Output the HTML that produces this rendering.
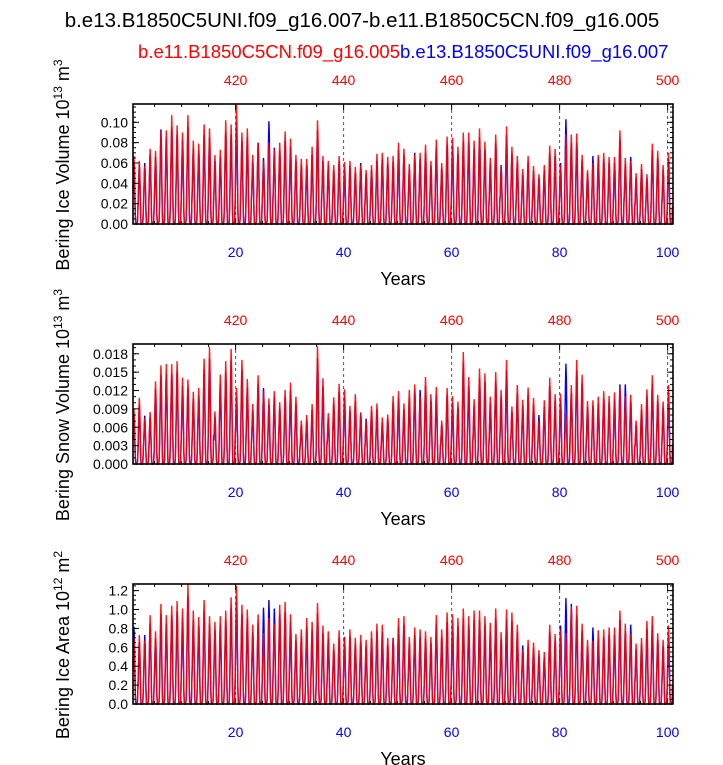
<!DOCTYPE html>
<html><head><meta charset="utf-8"><style>
body{margin:0;background:#fff;font-family:"Liberation Sans",sans-serif}
svg{display:block}
</style></head><body>
<svg id="c" width="723" height="765" xmlns="http://www.w3.org/2000/svg">
<text x="362" y="27" text-anchor="middle" font-size="20.5">b.e13.B1850C5UNI.f09_g16.007-b.e11.B1850C5CN.f09_g16.005</text>
<text x="400" y="58" text-anchor="end" font-size="18.5" fill="#f00">b.e11.B1850C5CN.f09_g16.005</text>
<text x="400" y="58" text-anchor="start" font-size="18.5" fill="#00f">b.e13.B1850C5UNI.f09_g16.007</text>
</svg>
<script>
const years=[];for(let i=1;i<=100;i++)years.push(i);
const season=[0.5,0.78,1,0.85,0.5,0.15,0.0,0,0,0,0.05,0.25];
const topTickLabels=["420","440","460","480","500"];
const bottomTickLabels=["20","40","60","80","100"];
const ice_red=[.067,.062,.057,.074,.072,.091,.092,.107,.097,.090,.107,.082,.079,.098,.094,.068,.073,.102,.098,.117,.090,.094,.068,.080,.062,.080,.073,.080,.091,.084,.068,.064,.064,.076,.102,.067,.062,.058,.067,.061,.062,.056,.058,.053,.058,.069,.070,.066,.067,.080,.074,.059,.068,.070,.078,.062,.083,.060,.086,.085,.076,.090,.090,.082,.094,.081,.065,.088,.057,.096,.076,.067,.054,.067,.057,.049,.058,.077,.074,.058,.088,.088,.089,.068,.053,.060,.068,.070,.066,.066,.092,.065,.062,.050,.059,.049,.079,.072,.058,.070];
const ice_blue=[.061,.058,.060,.068,.066,.093,.085,.095,.088,.082,.095,.075,.072,.088,.085,.062,.066,.090,.088,.100,.082,.085,.062,.080,.065,.101,.075,.072,.082,.076,.062,.058,.058,.068,.092,.062,.058,.053,.061,.056,.057,.051,.060,.049,.053,.062,.064,.060,.061,.072,.068,.054,.070,.064,.070,.057,.075,.055,.078,.077,.069,.081,.081,.074,.085,.073,.059,.080,.058,.087,.069,.061,.050,.061,.052,.045,.053,.070,.067,.060,.103,.080,.080,.062,.050,.067,.066,.064,.060,.060,.083,.059,.066,.046,.054,.045,.072,.065,.053,.064];
const snow_red=[8.9,10.8,7.4,8.5,13.5,16.1,16.3,16.3,16.8,14.1,13.8,11.8,12.4,17.2,19.1,8.6,14.6,16.8,18.8,12.4,17.0,13.9,9.8,14.5,11.9,10.7,11.9,10.1,12.1,13.3,11.0,7.1,8.0,9.8,19.2,14.0,8.3,10.9,13.1,12.2,9.5,11.4,8.3,7.1,9.5,9.9,7.6,8.1,11.1,11.9,9.9,12.1,13.0,11.1,14.2,11.4,12.6,7.1,12.4,11.1,10.2,18.3,14.2,10.6,15.6,14.8,11.0,15.0,12.1,17.0,9.4,12.9,10.5,12.5,10.8,7.1,10.4,14.1,11.4,11.5,8.2,12.9,17.0,14.6,10.3,10.4,11.0,11.9,11.1,11.7,12.5,11.1,11.3,7.1,9.8,12.2,14.5,11.3,10.2,12.9];
const snow_blue=[8.0,9.7,7.9,7.7,12.2,14.5,14.7,14.7,15.1,12.7,12.4,10.6,11.2,15.5,17.2,7.7,13.1,15.1,16.9,11.2,15.3,12.5,8.8,13.1,12.4,9.6,11.0,9.1,10.9,12.0,9.9,6.4,7.2,8.8,17.3,12.6,7.5,9.8,11.8,11.0,8.6,10.3,8.4,7.4,8.6,8.9,6.8,7.3,10.0,10.7,8.9,10.9,12.2,12.1,12.8,10.3,11.3,6.4,11.2,10.0,9.2,16.5,12.8,9.5,14.0,13.3,9.9,13.5,10.9,15.3,8.5,11.6,9.5,11.3,9.7,8.0,9.4,12.7,10.3,10.4,16.4,11.6,15.3,13.1,9.3,9.4,9.9,10.7,10.0,10.5,13.0,13.0,10.3,6.4,8.8,11.0,13.1,10.2,9.2,11.6];
const area_red=[0.70,0.73,0.67,0.94,0.77,1.06,0.94,1.04,1.09,1.01,1.27,0.99,0.92,1.10,0.93,0.87,0.93,0.99,1.13,1.25,1.05,1.00,0.84,0.95,0.75,0.91,0.85,1.05,1.08,0.95,0.74,0.79,0.91,0.87,1.07,0.83,0.77,0.64,0.78,0.71,0.79,0.70,0.73,0.68,0.77,0.85,0.84,0.70,0.70,0.91,0.93,0.71,0.81,0.79,0.77,0.71,0.94,0.79,0.97,0.95,0.91,1.01,0.93,0.99,0.99,0.93,0.86,1.01,0.76,1.00,0.97,0.84,0.57,0.68,0.65,0.57,0.55,0.84,0.74,0.78,0.75,1.03,1.04,0.85,0.68,0.67,0.78,0.79,0.81,0.81,0.99,0.85,0.74,0.64,0.70,0.88,0.93,0.75,0.68,0.83];
const area_blue=[0.82,0.66,0.73,0.85,0.69,0.95,0.85,0.94,0.98,0.91,1.14,0.89,0.83,0.99,0.84,0.78,0.84,0.89,1.02,1.12,0.95,0.90,0.76,0.86,1.02,1.10,1.01,0.95,0.97,0.86,0.67,0.71,0.82,0.78,0.96,0.75,0.69,0.58,0.70,0.71,0.71,0.63,0.66,0.61,0.69,0.77,0.76,0.63,0.70,0.82,0.84,0.64,0.73,0.71,0.69,0.64,0.85,0.71,0.87,0.86,0.82,0.91,0.84,0.89,0.89,0.84,0.77,0.91,0.68,0.90,0.87,0.76,0.62,0.61,0.59,0.51,0.50,0.76,0.67,0.83,1.12,1.06,0.94,0.77,0.61,0.81,0.70,0.71,0.73,0.73,0.89,0.77,0.84,0.58,0.63,0.79,0.84,0.68,0.61,0.75];

const NS="http://www.w3.org/2000/svg";
const svg=document.getElementById('c');
function mk(tag,at,parent){const e=document.createElementNS(NS,tag);for(const k in at)e.setAttribute(k,at[k]);(parent||svg).appendChild(e);return e;}
const X0=133,X1=673,XMIN=1,XMAX=101;
function xs(v){return X0+(v-XMIN)/(XMAX-XMIN)*(X1-X0);}

const panels=[
 {name:'ice-volume',top:104,bot:224,max:0.118,ticks:[0,0.02,0.04,0.06,0.08,0.10],minor:0.005,dec:2,scale:1,red:ice_red,blue:ice_blue,title:'Bering Ice Volume 10',exp:'13',unit:' m',uexp:'3',cy:165},
 {name:'snow-volume',top:344,bot:464,max:19.6,ticks:[0,3,6,9,12,15,18],minor:1,dec:3,scale:0.001,red:snow_red,blue:snow_blue,title:'Bering Snow Volume 10',exp:'13',unit:' m',uexp:'3',cy:405},
 {name:'ice-area',top:584,bot:704,max:1.27,ticks:[0,0.2,0.4,0.6,0.8,1.0,1.2],minor:0.05,dec:1,scale:1,red:area_red,blue:area_blue,title:'Bering Ice Area 10',exp:'12',unit:' m',uexp:'2',cy:645}
];
panels.forEach((p,pi)=>{
 const g=mk('g',{});
 
 
 const ys=v=>p.bot-(v/p.max)*(p.bot-p.top);
 [20,40,60,80,100].forEach(yr=>{
  const l=mk('line',{x1:xs(yr),x2:xs(yr),y1:p.top,y2:p.bot,stroke:'#555','stroke-width':1,'stroke-dasharray':'3,3'},g);
  
  
 });
 [['blue',p.blue,'#0000ff'],['red',p.red,'#ff0000']].forEach(([nm,arr,col])=>{
  let d='';
  arr.forEach((v,i)=>{season.forEach((s,m)=>{const x=xs(years[i]+m/12),y=ys(v*s);d+=(d?'L':'M')+x.toFixed(2)+','+y.toFixed(2);});});
  const path=mk('path',{d:d,fill:'none',stroke:col,'stroke-width':1.4,'stroke-opacity':nm==='red'?0.9:1},g);
  
  
 });
 const fr=mk('rect',{x:X0,y:p.top,width:X1-X0,height:p.bot-p.top,fill:'none',stroke:'#000','stroke-width':1.6},g);
 
 
 for(let yr=5;yr<=100;yr+=5){
  const maj=yr%20===0, L=maj?6:3;
  mk('line',{x1:xs(yr),x2:xs(yr),y1:p.bot,y2:p.bot-L,stroke:'#000','stroke-width':1},g);
  mk('line',{x1:xs(yr),x2:xs(yr),y1:p.top,y2:p.top+L,stroke:'#000','stroke-width':1},g);
 }
 bottomTickLabels.forEach((t,i)=>{
  const yr=+t;
  const tx=mk('text',{x:xs(yr),y:p.bot+33,'text-anchor':'middle','font-size':14,fill:'#00f'},g);tx.textContent=t;
  
  
  const tt=mk('text',{x:xs(yr),y:p.top-19,'text-anchor':'middle','font-size':14,fill:'#f00'},g);tt.textContent=topTickLabels[i];
  
  
 });
 for(let v=0;v<=p.max+1e-9;v+=p.minor){
  mk('line',{x1:X0,x2:X0+3,y1:ys(v),y2:ys(v),stroke:'#000','stroke-width':1},g);
  mk('line',{x1:X1,x2:X1-3,y1:ys(v),y2:ys(v),stroke:'#000','stroke-width':1},g);
 }
 p.ticks.forEach(v=>{
  mk('line',{x1:X0,x2:X0+6,y1:ys(v),y2:ys(v),stroke:'#000','stroke-width':1},g);
  mk('line',{x1:X1,x2:X1-6,y1:ys(v),y2:ys(v),stroke:'#000','stroke-width':1},g);
  const t=mk('text',{x:X0-5,y:ys(v)+5,'text-anchor':'end','font-size':14},g);
  t.textContent=(v*p.scale).toFixed(p.dec);
  
  
 });
 const xt=mk('text',{x:403,y:p.bot+61,'text-anchor':'middle','font-size':18},g);xt.textContent='Years';
 
 
 const yt=mk('text',{x:0,y:0,'text-anchor':'middle','font-size':18,transform:'translate(69,'+p.cy+') rotate(-90)'},g);
 
 
 yt.innerHTML=p.title+'<tspan font-size="12" dy="-7">'+p.exp+'</tspan><tspan dy="7">'+p.unit+'</tspan><tspan font-size="12" dy="-7">'+p.uexp+'</tspan>';
});
</script>
</body></html>
